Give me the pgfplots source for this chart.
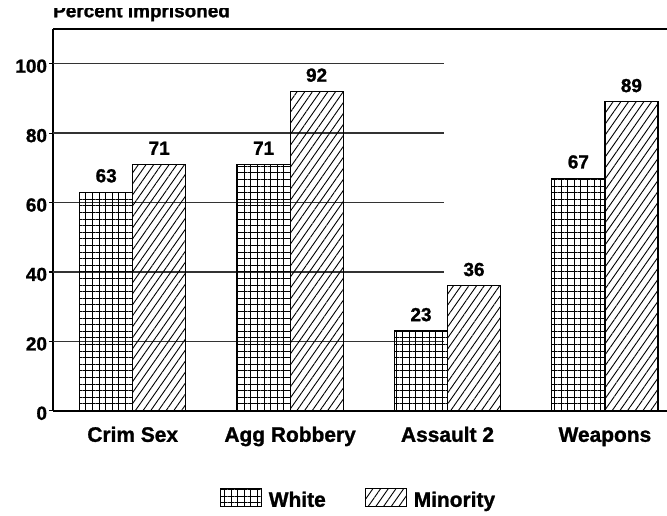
\documentclass[border=0pt]{standalone}
\usepackage{fontspec}
\setmainfont{Liberation Sans}[BoldFeatures={FakeBold=1.2}]
\usepackage{pgfplots}
\pgfplotsset{compat=1.18}
\usetikzlibrary{patterns.meta}

\pgfplotsset{
  mybar/.style={
    ybar, bar width=0.337, draw=black, line width=1.2bp,
    nodes near coords,
    every node near coord/.append style={anchor=south, inner sep=0pt, yshift=9bp,
      font=\fontsize{19}{19}\selectfont\bfseries},
    legend image code/.code={\draw[##1, line width=1bp] (0bp,-6.8bp) rectangle (41bp,11.2bp);},
  },
  grid line/.style={forget plot, line width=1.3bp, black!80},
}

\begin{document}
\begin{tikzpicture}
\useasboundingbox (-53bp,-105.2bp) rectangle (614bp,410.8bp);

% title is cut off at the top, as in the original
\begin{scope}
  \clip (-53bp,0bp) rectangle (614bp,401.8bp);
  \node[anchor=base west, inner sep=0pt, font=\fontsize{19}{19}\selectfont\bfseries]
    at (0bp,393.5bp) {Percent Imprisoned};
\end{scope}

\begin{axis}[
  at={(0,0)}, anchor=south west,
  scale only axis, width=614bp, height=381.8bp,
  xmin=-0.5064, xmax=3.3945, ymin=0, ymax=110,
  axis x line*=bottom, axis y line*=left,
  axis line style={-, line width=1.5bp},
  xtick={0,1,2,3},
  xticklabels={Crim Sex, Agg Robbery, Assault 2, Weapons},
  xtick style={draw=none},
  xticklabel style={anchor=base, yshift=-27bp, font=\fontsize{21}{21}\selectfont\bfseries},
  ytick={0,20,...,100},
  tick align=outside, major tick length=4bp,
  ytick style={line width=1.2bp, black},
  yticklabel style={font=\fontsize{19}{19}\selectfont\bfseries, yshift=-2.5bp, xshift=1.5bp},
  /pgf/number format/assume math mode=true,
  legend columns=-1,
  legend style={draw=none, at={(0.4975,-0.2317)}, anchor=center,
    font=\fontsize{21}{21}\selectfont\bfseries,
    /tikz/every odd column/.append style={column sep=5bp},
    /tikz/every even column/.append style={column sep=37bp}},
]

% grid lines stop inside the Assault 2 group
\addplot[grid line] coordinates {(-0.5064,20) (1.98,20)};
\addplot[grid line] coordinates {(-0.5064,40) (1.98,40)};
\addplot[grid line] coordinates {(-0.5064,60) (1.98,60)};
\addplot[grid line] coordinates {(-0.5064,80) (1.98,80)};
\addplot[grid line] coordinates {(-0.5064,100) (1.98,100)};

\addplot[mybar, bar shift=-0.1685, pattern={Hatch[distance=6.6bp, line width=0.9bp]},
  every node near coord/.append style={xshift=-26.5bp}]
  coordinates {(0,63) (1,71) (2,23) (3,67)};
\addplot[mybar, bar shift=0.1685, pattern={Lines[angle=55, distance=6.3bp, line width=0.9bp]},
  every node near coord/.append style={xshift=26.5bp}]
  coordinates {(0,71) (1,92) (2,36) (3,89)};
\legend{White, Minority}

\draw[line width=1.3bp] (rel axis cs:0,1) -- (rel axis cs:1,1);
\end{axis}
\end{tikzpicture}
\end{document}
